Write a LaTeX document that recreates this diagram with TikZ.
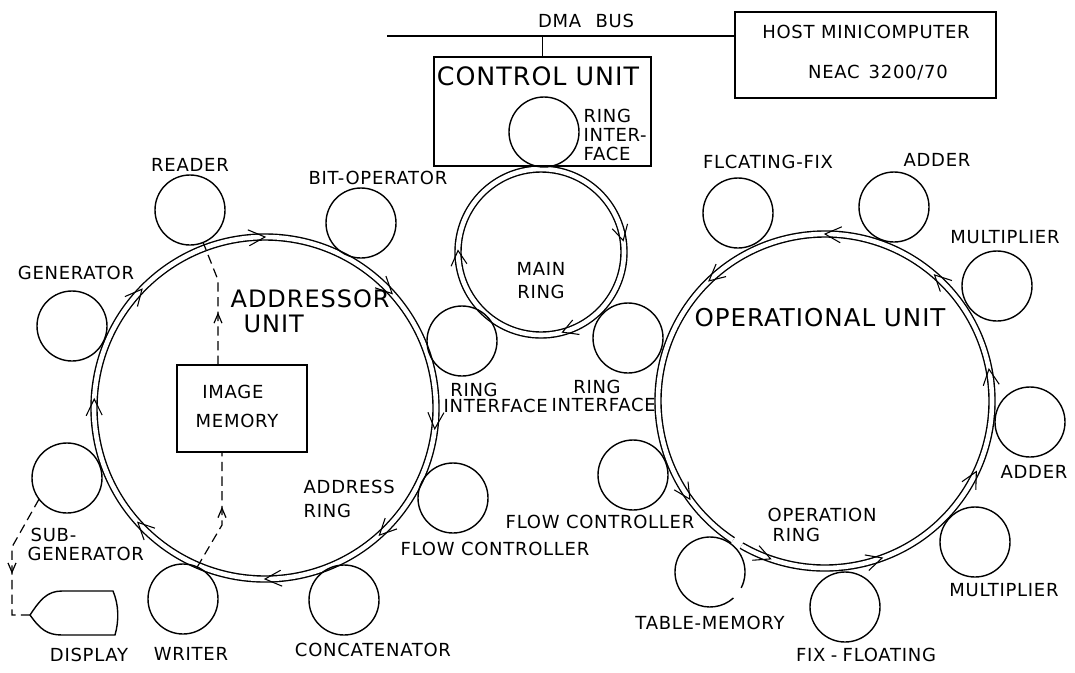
\documentclass[tikz,border=0pt]{standalone}
\usepackage{fontspec}
\setmainfont{DejaVu Sans}[LetterSpace=4.0]
\usetikzlibrary{calc,arrows.meta,decorations.markings}
\begin{document}
\begin{tikzpicture}[x=0.75pt,y=-0.75pt,line width=1.05pt,
  unit/.style={circle,draw,minimum size=52.5pt,inner sep=0pt,outer sep=0pt},
  boxnode/.style={draw,rectangle,inner sep=0pt,outer sep=0pt},
  ring/.style={draw,double=white,double distance=3.45pt},
  chev/.style={line width=0.8pt},
  lbl/.style={inner sep=0pt,font=\fontsize{13.5}{15}\selectfont},
  big/.style={inner sep=0pt,font=\fontsize{18}{21}\selectfont},
  dashconn/.style={dash pattern=on 7pt off 4pt,line width=0.9pt},
  dasharrow/.style={postaction={decorate},decoration={markings,mark=at position #1 with {\arrow[solid]{Straight Barb[length=7pt,width=6pt]}}}}
]
\useasboundingbox (0,0) rectangle (1075,672);

% rings
\coordinate (addr) at (265,408);
\coordinate (mainc) at (541,252);
\coordinate (opc) at (825,401);
\draw[ring] (addr) circle[radius=171];
\draw[ring] (mainc) circle[radius=83];
\draw[ring] ($(opc)+(123.5:167)$) arc[start angle=123.5,end angle=480,radius=167];

% ring direction chevrons
\foreach \a in {-90,-42,7,48,90,138,183,224}
  \draw[chev] ($(addr)+(\a-5.5:179)$) -- ($(addr)+(\a:171)$) -- ($(addr)+(\a-5.5:163)$);
\foreach \a in {-8,75,181}
  \draw[chev] ($(mainc)+(\a-10:91)$) -- ($(mainc)+(\a:83)$) -- ($(mainc)+(\a-10:75)$);
\foreach \a in {226,144,109,70,25,-11,-49,-90}
  \draw[chev] ($(opc)+(\a+5.5:175)$) -- ($(opc)+(\a:167)$) -- ($(opc)+(\a+5.5:159)$);

% boxes
\node[boxnode,minimum width=162.75pt,minimum height=81.75pt] (cu) at (542.5,111.5) {};
\node[boxnode,minimum width=195.75pt,minimum height=64.5pt] (host) at (865.5,55) {};
\node[boxnode,minimum width=97.5pt,minimum height=65.25pt] (imem) at (242,408.5) {};

% units
\node[unit] (reader) at (190,210) {};
\node[unit] (bitop) at (361,223) {};
\node[unit] (gen) at (72,326) {};
\node[unit] (subgen) at (67,478) {};
\node[unit] (writer) at (183,599) {};
\node[unit] (concat) at (344,600) {};
\node[unit] (flowA) at (453,498) {};
\node[unit] (riL) at (462,341) {};
\node[unit] (riR) at (628,338) {};
\node[unit] (riC) at (544,132) {};
\node[unit] (flfix) at (738,213) {};
\node[unit] (adderA) at (894,207) {};
\node[unit] (multA) at (997,286) {};
\node[unit] (adderB) at (1030,422) {};
\node[unit] (multB) at (975,542) {};
\node[unit] (fixfl) at (845,607) {};
\node[unit] (flowO) at (633,475) {};
\node[unit,draw=none] (tabmem) at (710,572) {};
\draw (tabmem.-27) arc[start angle=27,end angle=-312,radius=35];

% bus
\coordinate (busL) at (387,36);
\draw (busL) -- (busL -| host.west);
\draw (cu.north) -- (cu.north |- busL);

% display
\coordinate (disp) at (30,615);
\draw (disp) .. controls (40,600) and (47,591) .. (62,591) -- (113,591)
  .. controls (119,605) and (119,621) .. (115,635) -- (62,635)
  .. controls (47,635) and (40,629) .. (disp);

% dashed connectors
\draw[dashconn,dasharrow=0.42] ($(imem.north)+(-24,0)$) -- ++(0,-85) -- (reader.-68);
\draw[dashconn,dasharrow=0.55] (writer.66) -- ($(imem.south)+(-20,73)$) -- ($(imem.south)+(-20,0)$);
\draw[dashconn,dasharrow=0.58] (subgen.217) -- (12,547) -- (12,615) -- (disp);

% labels
\node[lbl] (tdma) at (586,21) {DMA\hspace{0.8em}BUS};
\node[lbl] (thost) at (866,32) {HOST MINICOMPUTER};
\node[lbl] (tneac) at (878,73) {NEAC\hspace{0.5em}3200/70};
\node[big,font=\fontsize{19}{21}\selectfont] (tcu) at (538,76) {CONTROL UNIT};
\node[lbl,anchor=west] (tric1) at (583,116) {RING};
\node[lbl,anchor=west] (tric2) at (583,135) {INTER-};
\node[lbl,anchor=west] (tric3) at (583,154) {FACE};
\node[lbl] (tmain) at (541,269) {MAIN};
\node[lbl] (tmring) at (541,292) {RING};
\node[lbl] (treader) at (190,165) {READER};
\node[lbl] (tbitop) at (378,178) {BIT-OPERATOR};
\node[lbl] (tgen) at (76,273) {GENERATOR};
\node[big,anchor=west] (taddr) at (230,299) {ADDRESSOR};
\node[big,anchor=west] (taunit) at (243,324) {UNIT};
\node[lbl] (timage) at (233,392) {IMAGE};
\node[lbl] (tmemory) at (237,421) {MEMORY};
\node[lbl,anchor=west] (taddress) at (303,487) {ADDRESS};
\node[lbl,anchor=west] (taring) at (303,511) {RING};
\node[lbl] (triL1) at (474,390) {RING};
\node[lbl,anchor=west] (triL2) at (443,406) {INTERFACE};
\node[lbl] (triR1) at (597,387) {RING};
\node[lbl,anchor=west] (triR2) at (551,405) {INTERFACE};
\node[lbl] (tflowO) at (600,522) {FLOW CONTROLLER};
\node[lbl,anchor=west] (tflowA) at (400,549) {FLOW CONTROLLER};
\node[lbl,anchor=west] (tsub) at (30,535) {SUB-};
\node[lbl,anchor=west] (tsubgen) at (27,554) {GENERATOR};
\node[lbl] (tdisp) at (89,655) {DISPLAY};
\node[lbl] (twriter) at (191,654) {WRITER};
\node[lbl] (tconcat) at (373,650) {CONCATENATOR};
\node[lbl] (tflfix) at (768,162) {FLCATING-FIX};
\node[lbl] (tadderA) at (937,160) {ADDER};
\node[lbl] (tmultA) at (1005,237) {MULTIPLIER};
\node[big,font=\fontsize{18.4}{21}\selectfont] (topunit) at (820,318) {OPERATIONAL UNIT};
\node[lbl] (tadderB) at (1034,472) {ADDER};
\node[lbl] (tmultB) at (1004,590) {MULTIPLIER};
\node[lbl] (tfixfl) at (866,655) {FIX\hspace{0.3em}-\hspace{0.3em}FLOATING};
\node[lbl] (ttabmem) at (710,623) {TABLE-MEMORY};
\node[lbl,anchor=west] (toperation) at (767,515) {OPERATION};
\node[lbl,anchor=west] (toring) at (772,535) {RING};
\end{tikzpicture}
\end{document}
